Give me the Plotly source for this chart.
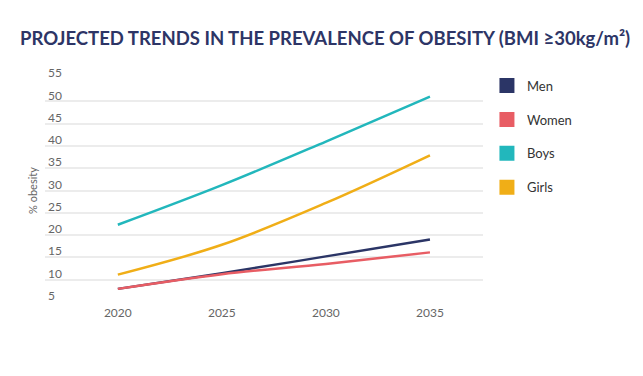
import plotly.graph_objects as go

years = [2020, 2025, 2030, 2035]
men = [7.9, 11.4, 15.2, 19.0]
women = [7.9, 11.2, 13.5, 16.1]
boys = [22.3, 31.2, 41.0, 51.1]
girls = [11.1, 17.8, 27.2, 37.9]

series = [("Men", men, "#2b3566"), ("Women", women, "#e85d64"),
          ("Boys", boys, "#22b7bc"), ("Girls", girls, "#f0ae17")]

y_ticks = [5, 10, 15, 20, 25, 30, 35, 40, 45, 50, 55]
x_ticks = [2020, 2025, 2030, 2035]

fig = go.Figure()
for i, (name, vals, col) in enumerate(series):
    fig.add_trace(go.Scatter(x=years, y=vals, mode="lines", name=name,
                             line=dict(color=col, width=2.5, shape="spline"),
                             showlegend=False, hoverinfo="skip"))
for i, (name, vals, col) in enumerate(series):
    fig.add_trace(go.Scatter(x=[None], y=[None], mode="markers", name=name,
                             marker=dict(symbol="square", size=15, color=col),
                             legendgroup=name, showlegend=True))

fig.update_layout(
    width=643, height=376,
    margin=dict(l=37, r=168, t=71, b=81.5, autoexpand=False),
    paper_bgcolor="white", plot_bgcolor="white",
    title=dict(text="<b>PROJECTED TRENDS IN THE PREVALENCE OF OBESITY (BMI ≥30kg/m²)</b>",
               x=0.0187, xanchor="left", y=0.92, yanchor="middle",
               font=dict(family="Lato", size=18.5, color="#2d3566")),
    legend=dict(x=1.009, xanchor="left", y=1.0376, yanchor="top",
                font=dict(family="Lato", size=13, color="#333333"),
                tracegroupgap=14, itemwidth=30),
    font=dict(family="Lato"),
)
fig.update_xaxes(range=[2016.5, 2037.55], tickvals=x_ticks, showgrid=False,
                 zeroline=False, showline=False, automargin=False,
                 ticklabelstandoff=2,
                 tickfont=dict(size=12, color="#666666"))
fig.update_yaxes(range=[4.95, 55.05], tickvals=y_ticks, showgrid=True,
                 gridcolor="#ececec", gridwidth=1.5, zeroline=False, showline=False,
                 automargin=False,
                 ticklabelposition="inside", ticklabelshift=-6, ticklabeloverflow="allow",
                 tickfont=dict(size=12, color="#666666"),
                 title=dict(text="% obesity", font=dict(size=11, color="#666666"), standoff=8))

fig.write_html("out.html")
